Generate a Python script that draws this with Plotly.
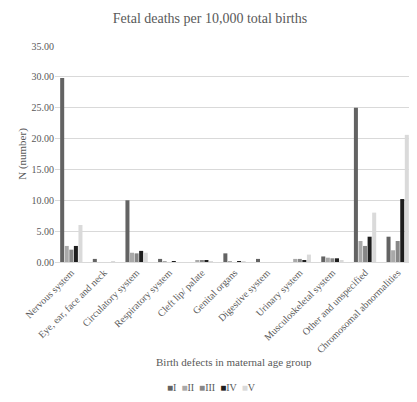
import plotly.graph_objects as go

categories = ["Nervous system", "Eye, ear, face and neck", "Circulatory system",
              "Respiratory system", "Cleft lip/ palate", "Genital organs",
              "Digestive system", "Urinary system", "Musculoskeletal system",
              "Other and unspecified", "Chromosomal abnormalities"]
series_names = ["I", "II", "III", "IV", "V"]
vals_I = [29.8, 0.5, 10.0, 0.5, 0.0, 1.4, 0.5, 0.0, 0.9, 25.0, 4.1]
vals_II = [2.6, 0.0, 1.5, 0.1, 0.2, 0.05, 0.0, 0.5, 0.7, 3.4, 1.9]
vals_III = [2.0, 0.0, 1.4, 0.0, 0.2, 0.0, 0.0, 0.5, 0.6, 2.6, 3.4]
vals_IV = [2.6, 0.0, 1.8, 0.1, 0.2, 0.1, 0.0, 0.3, 0.6, 4.1, 10.2]
vals_V = [6.0, 0.1, 1.5, 0.0, 0.1, 0.05, 0.0, 1.2, 0.2, 8.0, 20.6]
series_values = [vals_I, vals_II, vals_III, vals_IV, vals_V]
colors = ["#636363", "#a9a9a9", "#878787", "#1e1e1e", "#dadada"]

font_family = "Liberation Serif, Times New Roman, serif"
fig = go.Figure()
for name, vals, col in zip(series_names, series_values, colors):
    fig.add_trace(go.Bar(name=name, x=categories, y=vals, marker_color=col,
                         marker_line_width=0, showlegend=False))

# compact legend built from the series names and colours
legend_text = "&nbsp;&nbsp;".join(
    f"<span style='color:{c}'>■</span>{n}" for n, c in zip(series_names, colors))

# page body has an 8px margin; figure coords = page coords - 8
OFF = 8
W, H = 409, 386
L = 55 - OFF
T = 46 - OFF
plot_bottom = 262 - OFF
plot_right = 414 - OFF
R = W - plot_right
B = H - plot_bottom
plot_h = plot_bottom - T
plot_w = plot_right - L

fig.update_layout(
    width=W, height=H,
    margin=dict(l=L, r=R, t=T, b=B, autoexpand=False),
    paper_bgcolor="white", plot_bgcolor="white",
    font=dict(family=font_family, color="#595959", size=10),
    title=dict(text="Fetal deaths per 10,000 total births",
               x=(210 - OFF) / W, xanchor="center",
               y=1 - (18 - OFF) / H, yanchor="middle",
               font=dict(size=14, color="#595959", family=font_family)),
    barmode="group", bargap=0.3, bargroupgap=0.12,
    showlegend=False,
    yaxis=dict(range=[0, 35], dtick=5, tickformat=".2f", gridcolor="#d9d9d9",
               showline=False, zeroline=False, ticks="", automargin=False,
               tickfont=dict(size=10, color="#595959"),
               title=dict(text="N (number)", font=dict(size=11, color="#595959"),
                          standoff=2)),
    xaxis=dict(tickangle=-45, showline=True, linecolor="#d9d9d9", ticks="",
               automargin=False, tickfont=dict(size=10, color="#595959")),
    annotations=[
        dict(text="Birth defects in maternal age group", xref="paper", yref="paper",
             x=(234 - 55) / plot_w, y=-(362 - 262) / plot_h,
             xanchor="center", yanchor="middle",
             showarrow=False, font=dict(size=11, color="#595959")),
        dict(text=legend_text, xref="paper", yref="paper",
             x=(211 - 55) / plot_w, y=-(387 - 262) / plot_h,
             xanchor="center", yanchor="middle",
             showarrow=False, font=dict(size=10, color="#595959")),
    ],
)

fig.write_html("out.html")
